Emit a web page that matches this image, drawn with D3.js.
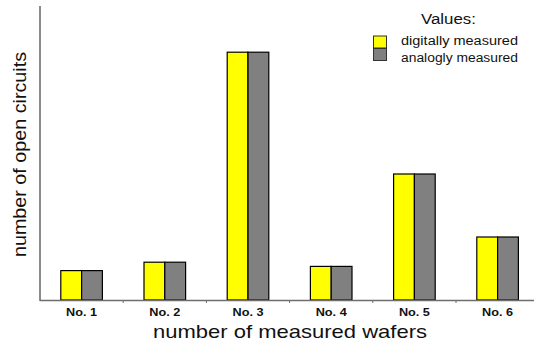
<!DOCTYPE html>
<html><head><meta charset="utf-8">
<script src="https://cdn.jsdelivr.net/npm/d3@7"></script>
<style>body{margin:0;background:#fff}svg{display:block}</style>
</head><body>
<script>
const categories = ["No. 1","No. 2","No. 3","No. 4","No. 5","No. 6"];
const digitally = [7, 9, 59, 8, 30, 15];
const analogly = [7, 9, 59, 8, 30, 15];
const seriesNames = ["digitally measured","analogly measured"];
const seriesColors = ["#ffff00","#808080"];

const W = 534, H = 345;
const svg = d3.select("body").append("svg").attr("width", W).attr("height", H);
const font = "'Liberation Sans', Arial, Helvetica, sans-serif";

const x = d3.scaleBand().domain(categories).range([40, 539.2]).paddingInner(0.5).paddingOuter(0.25);
const x1 = d3.scaleBand().domain([0,1]).range([0, x.bandwidth()]);
const y = d3.scaleLinear().domain([0, 70]).range([300, 6]);

const rows = categories.map((c,i)=>({c, v:[digitally[i], analogly[i]]}));
const g = svg.append("g");
rows.forEach(r=>{
  r.v.forEach((v,k)=>{
    g.append("rect")
      .attr("x", x(r.c) + x1(k))
      .attr("y", y(v))
      .attr("width", x1.bandwidth())
      .attr("height", y(0) - y(v))
      .attr("fill", seriesColors[k])
      .attr("stroke", "#000").attr("stroke-width", 1.2);
  });
});

// axes
const axisColor = "#6e6e6e";
svg.append("line").attr("x1",40).attr("x2",40).attr("y1",6).attr("y2",301).attr("stroke",axisColor).attr("stroke-width",1.6);
svg.append("line").attr("x1",40).attr("x2",W).attr("y1",300.5).attr("y2",300.5).attr("stroke",axisColor).attr("stroke-width",1.6);
const bounds = d3.range(1, categories.length).map(i => x.range()[0] + i*x.step());
svg.selectAll(".tk").data(bounds).join("line")
  .attr("x1",d=>d).attr("x2",d=>d).attr("y1",300).attr("y2",303)
  .attr("stroke",axisColor).attr("stroke-width",1);

svg.selectAll(".xl").data(categories).join("text")
  .attr("x", d=>x(d)+x.bandwidth()/2 - 15.5).attr("y", 316)
  .attr("font-family",font).attr("font-size",11.5).attr("font-weight","bold")
  .attr("textLength",31).attr("lengthAdjust","spacingAndGlyphs")
  .attr("fill","#111").text(d=>d);

svg.append("text").attr("x",153).attr("y",338)
  .attr("font-family",font).attr("font-size",19).attr("fill","#111")
  .attr("textLength",274).attr("lengthAdjust","spacingAndGlyphs")
  .text("number of measured wafers");

svg.append("text").attr("transform","translate(26,257) rotate(-90)")
  .attr("font-family",font).attr("font-size",18).attr("fill","#111")
  .attr("textLength",205).attr("lengthAdjust","spacingAndGlyphs")
  .text("number of open circuits");

// legend
svg.append("text").attr("x",421).attr("y",24)
  .attr("font-family",font).attr("font-size",14).attr("fill","#111")
  .attr("textLength",55).attr("lengthAdjust","spacingAndGlyphs").text("Values:");
seriesNames.forEach((n,k)=>{
  svg.append("rect").attr("x",373.5).attr("y",36+k*12.5).attr("width",13).attr("height",12)
    .attr("fill",seriesColors[k]).attr("stroke","#333").attr("stroke-width",1);
  svg.append("text").attr("x",401).attr("y",45+k*17).attr("font-family",font).attr("font-size",12)
    .attr("textLength",117).attr("lengthAdjust","spacingAndGlyphs")
    .attr("fill","#111").text(n);
});
</script>
</body></html>
